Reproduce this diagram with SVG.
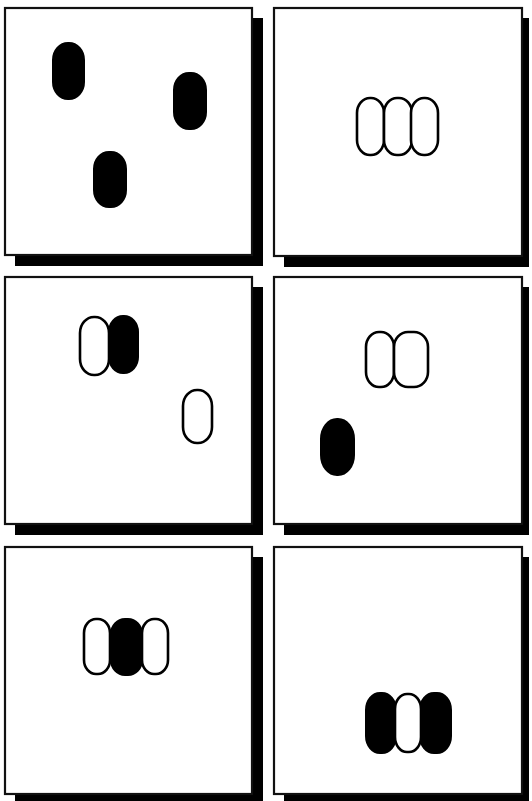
<svg xmlns="http://www.w3.org/2000/svg" width="532" height="801" viewBox="0 0 532 801">
<style>
.sh{fill:#000}
.bx{fill:#fff;stroke:#111;stroke-width:2.2}
.f{fill:#000;stroke:#000;stroke-width:2}
.o{fill:#fff;stroke:#000;stroke-width:2.6}
</style>
<rect width="532" height="801" fill="#fff"/>
<g id="panel1">
<rect class="sh" x="15" y="18" width="248" height="248"/>
<rect class="bx" x="5" y="8" width="247" height="247"/>
<rect class="f" x="53" y="43" width="31" height="56" rx="15" ry="17"/>
<rect class="f" x="174" y="73" width="32" height="56" rx="15" ry="17"/>
<rect class="f" x="94" y="152" width="32" height="55" rx="15" ry="17"/>
</g>
<g id="panel2">
<rect class="sh" x="284" y="18" width="245" height="249"/>
<rect class="bx" x="274" y="8" width="248" height="248"/>
<rect class="o" x="357" y="98" width="27" height="57" rx="13" ry="15"/>
<rect class="o" x="384" y="98" width="28" height="57" rx="13" ry="15"/>
<rect class="o" x="411" y="98" width="27" height="57" rx="13" ry="15"/>
</g>
<g id="panel3">
<rect class="sh" x="15" y="287" width="248" height="248"/>
<rect class="bx" x="5" y="277" width="247" height="247"/>
<rect class="o" x="80" y="317" width="29" height="58" rx="14" ry="16"/>
<rect class="f" x="109" y="316" width="29" height="57" rx="14" ry="16"/>
<rect class="o" x="183" y="390" width="29" height="53" rx="14" ry="16"/>
</g>
<g id="panel4">
<rect class="sh" x="284" y="287" width="245" height="248"/>
<rect class="bx" x="274" y="277" width="248" height="247"/>
<rect class="o" x="366" y="332" width="28" height="55" rx="13" ry="15"/>
<rect class="o" x="394" y="332" width="34" height="55" rx="14" ry="15"/>
<rect class="f" x="321" y="419" width="33" height="56" rx="16" ry="20"/>
</g>
<g id="panel5">
<rect class="sh" x="15" y="557" width="248" height="244"/>
<rect class="bx" x="5" y="547" width="247" height="247"/>
<rect class="f" x="111" y="619" width="31" height="56" rx="14" ry="15"/>
<rect class="o" x="84" y="619" width="26" height="55" rx="12" ry="14"/>
<rect class="o" x="142" y="619" width="26" height="55" rx="12" ry="14"/>
</g>
<g id="panel6">
<rect class="sh" x="284" y="557" width="245" height="244"/>
<rect class="bx" x="274" y="547" width="248" height="247"/>
<rect class="f" x="366" y="693" width="30" height="60" rx="14" ry="17"/>
<rect class="f" x="420" y="693" width="31" height="60" rx="14" ry="17"/>
<rect class="o" x="395" y="694" width="26" height="58" rx="12" ry="15"/>
</g>
</svg>
